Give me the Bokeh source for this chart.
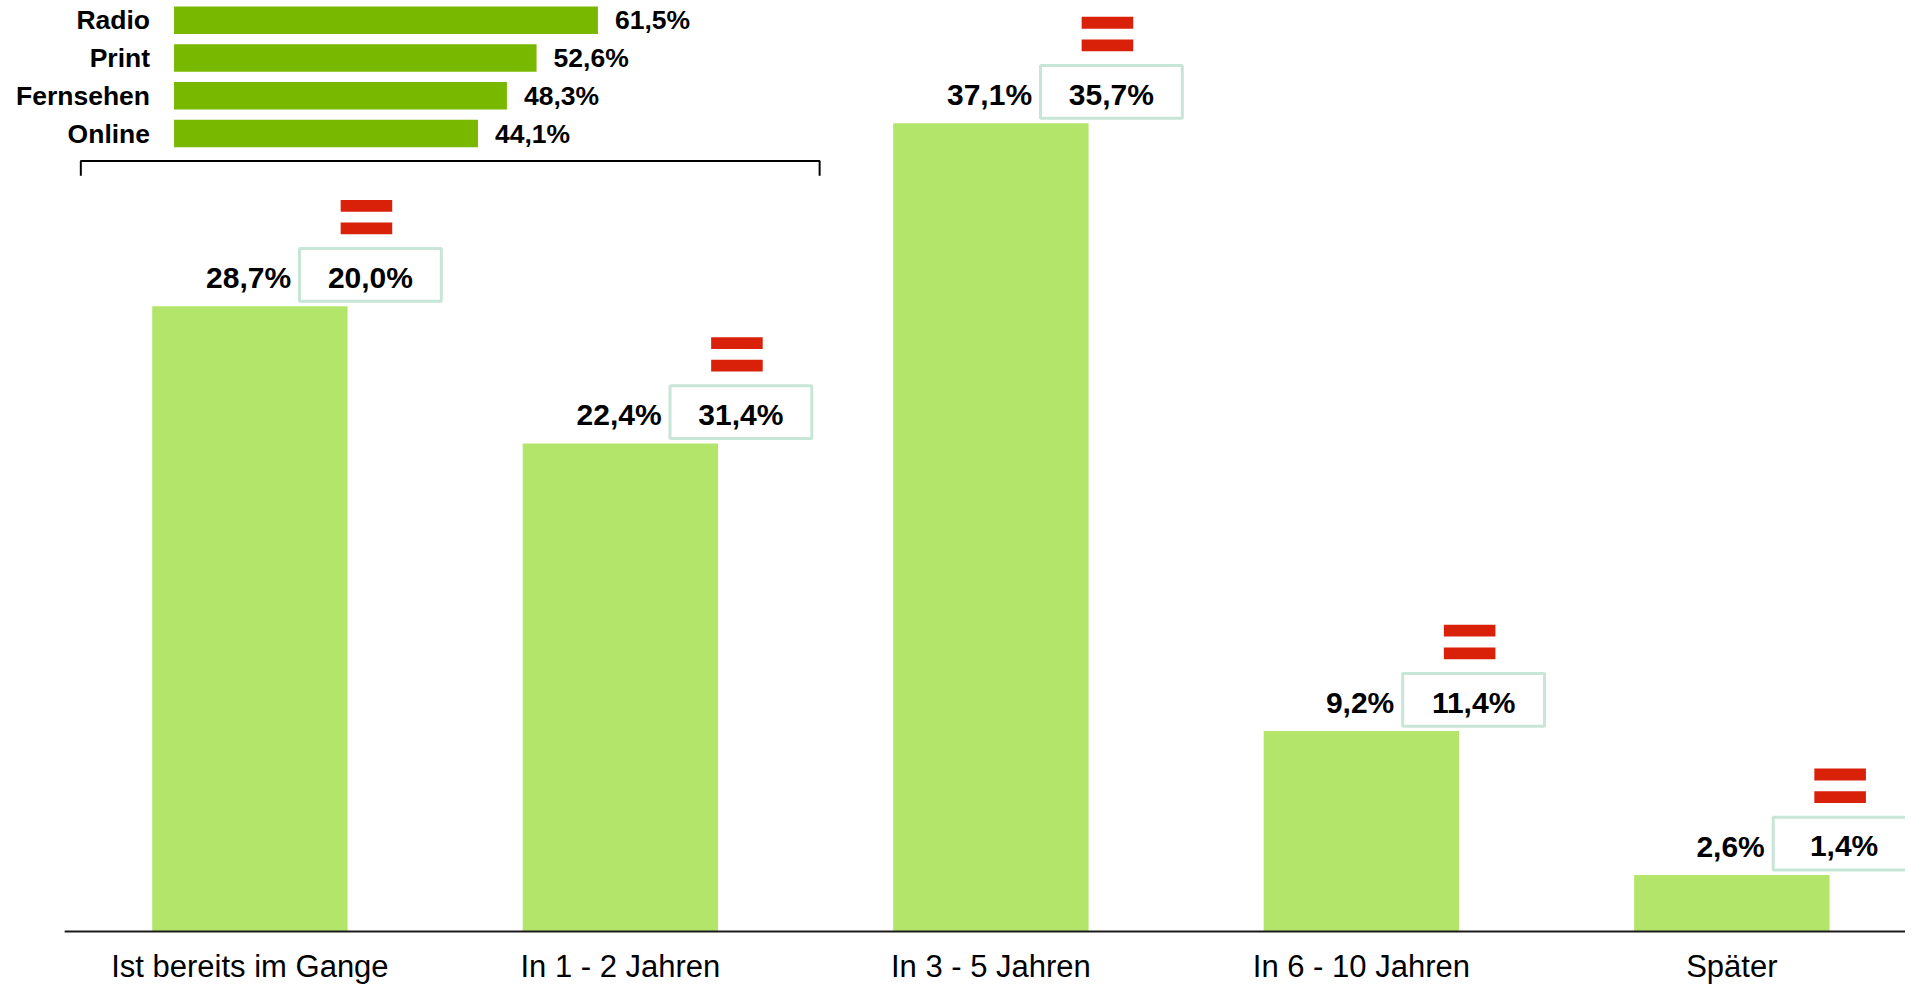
from bokeh.plotting import figure
from bokeh.models import Range1d, FixedTicker, ColumnDataSource
from bokeh.core.properties import value
from bokeh.embed import file_html
from bokeh.resources import INLINE

# ---------------- data ----------------
categories = ["Ist bereits im Gange", "In 1 - 2 Jahren", "In 3 - 5 Jahren",
              "In 6 - 10 Jahren", "Später"]
share_main = [28.7, 22.4, 37.1, 9.2, 2.6]
share_compare = [20.0, 31.4, 35.7, 11.4, 1.4]
media = ["Radio", "Print", "Fernsehen", "Online"]
media_share = [61.5, 52.6, 48.3, 44.1]


def fmt(v):
    return f"{v:.1f}%".replace(".", ",")


# ---------------- layout constants ----------------
FONT = "Liberation Sans"
KX = 1905 / 1921
KY = 983 / 999
FRAME_W = 1905
UX_REF = 373.6          # reference px per category
UY_REF = 22.14          # reference px per percent
BASE_REF = 946.0
X_START = 0.5 - 251.5 / UX_REF
X_END = 0.5 + (1921 - 251.5) / UX_REF
Y_START = -2.0 / UY_REF
Y_END = BASE_REF / UY_REF
FRAME_H = round((BASE_REF + 2.0) * KY)


def dx(px):
    return px / UX_REF


def dy(px):
    return px / UY_REF


MAIN_GREEN = "#b2e56a"
INSET_GREEN = "#78b900"
RED = "#d92008"
BOX_LINE = "#c8e6d7"

p = figure(frame_width=FRAME_W, frame_height=FRAME_H, min_border=0,
           x_range=Range1d(X_START, X_END), y_range=Range1d(Y_START, Y_END),
           output_backend="svg", toolbar_location=None, tools="",
           y_axis_location=None, x_axis_location="below")
p.grid.visible = False
p.outline_line_color = None
p.background_fill_color = "white"
p.border_fill_color = "white"

# ---------------- main bars ----------------
xs = [i + 0.5 for i in range(len(categories))]
p.vbar(x=xs, top=share_main, bottom=0, width=dx(197),
       fill_color=MAIN_GREEN, line_color=None)

# baseline
p.segment(x0=[0.0], y0=[0.0], x1=[X_END], y1=[0.0], line_color="#1a1a1a", line_width=2)

# x axis with category labels
p.xaxis.ticker = FixedTicker(ticks=xs)
p.xaxis.major_label_overrides = {x: c for x, c in zip(xs, categories)}
p.xaxis.axis_line_color = None
p.xaxis.major_tick_line_color = None
p.xaxis.minor_tick_line_color = None
p.xaxis.major_tick_out = 0
p.xaxis.major_tick_in = 0
p.xaxis.major_label_standoff = 15
p.xaxis.major_label_text_font = FONT
p.xaxis.major_label_text_font_size = "31px"
p.xaxis.major_label_text_color = "#000000"

# ---------------- labels + comparison boxes + flags ----------------
LBL_SIZE = 30
CW = {",": 0.278, "%": 0.889}


def text_w(s):
    return sum(CW.get(ch, 0.556) for ch in s) * LBL_SIZE


lab_x, lab_off, lab_y, lab_t = [], [], [], []
box_l, box_r, box_b, box_t = [], [], [], []
bx_c, bx_t = [], []
fl_l, fl_r, fl_b1, fl_t1, fl_b2, fl_t2 = [], [], [], [], [], []
for c, v, w in zip(xs, share_main, share_compare):
    t = fmt(v)
    W = text_w(t)
    outer_left = 2.5 + (W + 7) / 2          # ref px from category centre
    lab_x.append(c)
    lab_off.append((outer_left - 7) * KX)
    lab_y.append(v)
    lab_t.append(t)
    left = c + dx(outer_left + 1.5)
    right = left + dx(143)
    box_l.append(left)
    box_r.append(right)
    box_b.append(v + dy(5))
    box_t.append(v + dy(58.5))
    cx = (left + right) / 2
    bx_c.append(cx)
    bx_t.append(fmt(w))
    fcx = cx - dx(4)
    fl_l.append(fcx - dx(26))
    fl_r.append(fcx + dx(26))
    fl_b1.append(v + dy(73))
    fl_t1.append(v + dy(85))
    fl_b2.append(v + dy(96))
    fl_t2.append(v + dy(108))

p.quad(left=box_l, right=box_r, bottom=box_b, top=box_t,
       fill_color="white", line_color=BOX_LINE, line_width=3)
p.quad(left=fl_l, right=fl_r, bottom=fl_b1, top=fl_t1, fill_color=RED, line_color=None)
p.quad(left=fl_l, right=fl_r, bottom=fl_b2, top=fl_t2, fill_color=RED, line_color=None)

src_lab = ColumnDataSource(dict(x=lab_x, y=lab_y, t=lab_t, xo=lab_off))
p.text(x="x", y="y", text="t", x_offset="xo", y_offset=-28.5, source=src_lab,
       text_font=value(FONT), text_font_style="bold", text_font_size=value(f"{LBL_SIZE}px"),
       text_align="right", text_baseline="alphabetic", text_color="#000000")
p.text(x=bx_c, y=share_main, text=bx_t, y_offset=-29,
       text_font=value(FONT), text_font_style="bold", text_font_size=value(f"{LBL_SIZE}px"),
       text_align="center", text_baseline="alphabetic", text_color="#000000")

# ---------------- inset: media bars ----------------
IN_PX = 6.95      # reference px per percent
IN_ZERO = 175.0   # reference px of inset zero
p.extra_x_ranges = {"inset": Range1d(-IN_ZERO / IN_PX, (1921 - IN_ZERO) / IN_PX)}
rows = [dy(BASE_REF - (20 + 38.4 * i)) for i in range(len(media))]
p.hbar(y=rows, left=0, right=media_share, height=dy(28), x_range_name="inset",
       fill_color=INSET_GREEN, line_color=None)
p.text(x=[0] * len(media), y=rows, text=media, x_offset=-24, y_offset=0,
       x_range_name="inset", text_font=value(FONT), text_font_style="bold",
       text_font_size=value("26.5px"), text_align="right", text_baseline="alphabetic",
       text_color="#000000")
p.text(x=media_share, y=rows, text=[fmt(m) for m in media_share], x_offset=17, y_offset=0,
       x_range_name="inset", text_font=value(FONT), text_font_style="bold",
       text_font_size=value("26.5px"), text_align="left", text_baseline="alphabetic",
       text_color="#000000")

# bracket under the inset
bx0 = 0.5 + dx(81 - 251.5)
bx1 = 0.5 + dx(826 - 251.5)
by_top = dy(BASE_REF - 163)
by_bot = dy(BASE_REF - 178)
p.line(x=[bx0, bx0, bx1, bx1], y=[by_bot, by_top, by_top, by_bot],
       line_color="#000000", line_width=2)

open("out.html", "w").write(file_html(p, INLINE))
